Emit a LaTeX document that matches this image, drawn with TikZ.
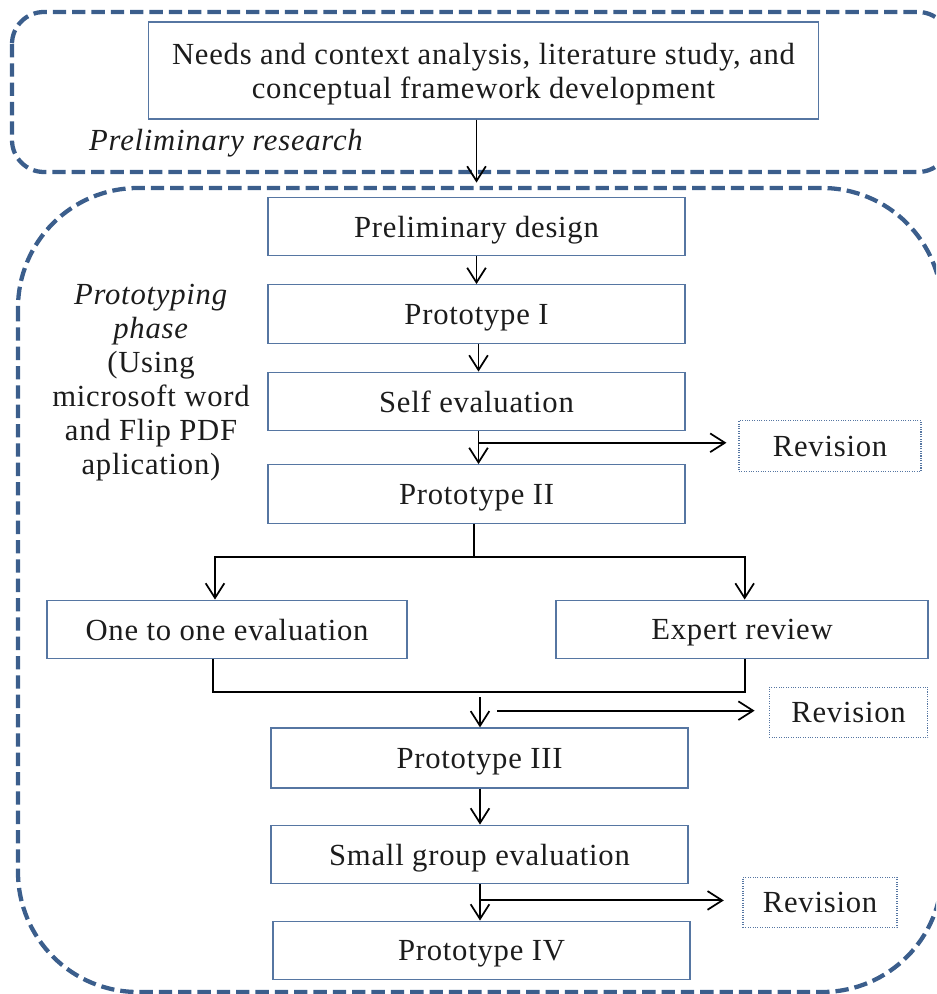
\documentclass[tikz,border=0pt]{standalone}
\usepackage{fontspec}
\setmainfont{Liberation Serif}[LetterSpace=2.5]
\usepackage{xcolor}
\usepackage{tikz}
\usetikzlibrary{positioning,arrows.meta}

\definecolor{PhaseBlue}{HTML}{3B5E8C}
\definecolor{EdgeBlue}{HTML}{5676A2}
\definecolor{InkGray}{HTML}{1C1C1C}

\begin{document}
\begin{tikzpicture}[
x=0.75pt, y=-0.75pt,
font=\fontsize{23}{25.5}\selectfont, text=InkGray,
stage/.style={draw=EdgeBlue, line width=0.9pt, inner sep=0pt, align=center, text depth=0pt, minimum width=312.75pt, minimum height=44pt},
revbox/.style={draw=EdgeBlue, densely dotted, line width=0.8pt, inner sep=0pt, text depth=0pt, minimum height=38pt},
phase/.style={draw=PhaseBlue, line width=3.2pt, dash pattern=on 10pt off 4.5pt},
link/.style={line width=1.45pt, black},
arrow/.style={link, -{Straight Barb[length=11pt,width=14pt,line width=1.3pt]}},
tag/.style={align=center, inner sep=0pt}
]
\clip (0,0) rectangle (936,994);
\useasboundingbox (0,0) rectangle (936,994);

% phase frames
\draw[phase, rounded corners=24pt] (12,12) rectangle (950,172);
\draw[phase, rounded corners=90pt] (18,188) rectangle (942,992);

% preliminary research
\node[stage, minimum width=503pt, minimum height=72.75pt] (needs) at (483.5,70.5)
  {Needs and context analysis, literature study, and\\conceptual framework development};
\node[tag, font=\fontsize{23}{25.5}\selectfont\itshape] (prelimlbl) at (226,143) {Preliminary research};

% prototyping phase
\node[tag] (protolbl) at (151,383)
  {\textit{Prototyping}\\\textit{phase}\\(Using\\microsoft word\\and Flip PDF\\aplication)};

\node[stage] (design) at (476.5,226.5) {Preliminary design};
\node[stage] (proto1) at (476.5,314) {Prototype I};
\node[stage] (selfev) at (476.5,401.5) {Self evaluation};
\node[stage] (proto2) at (476.5,494) {Prototype II};
\node[stage, minimum width=270pt] (onetoone) at (227,629.5) {One to one evaluation};
\node[stage, minimum width=279pt] (expert) at (742,629.5) {Expert review};
\node[stage, minimum height=45pt] (proto3) at (479.5,758) {Prototype III};
\node[stage] (smallgrp) at (479.5,854.5) {Small group evaluation};
\node[stage] (proto4) at (481.5,950.5) {Prototype IV};

\node[revbox, minimum width=136.5pt] (rev1) at (830,446) {Revision};
\node[revbox, minimum width=119pt] (rev2) at (848.5,712.5) {Revision};
\node[revbox, minimum width=115.5pt] (rev3) at (820,902.5) {Revision};

\coordinate (split) at (474,557);
\coordinate (merge) at (480,692);

% flow
\draw[arrow, shorten >=10.5pt] (needs.south -| design.north) -- (design.north);
\draw[arrow] (design) -- (proto1);
\draw[arrow] ([xshift=1.5pt]proto1.south) -- ([xshift=1.5pt]selfev.north);
\draw[arrow] ([xshift=1.5pt]selfev.south) -- ([xshift=1.5pt]proto2.north);
\draw[arrow, shorten >=10.5pt] ([xshift=1.5pt,yshift=-8.5pt]selfev.south) -- ([xshift=1.5pt,yshift=-8.5pt]selfev.south -| rev1.west);

\draw[link] (proto2.south -| split) -- (split);
\draw[arrow] (split) -| ([xshift=-9pt]onetoone.north);
\draw[arrow] (split) -| ([xshift=2pt]expert.north);

\draw[link] ([xshift=-10.5pt]onetoone.south) -- ++(0,33) -| ([xshift=2pt]expert.south);
\draw[arrow] ([yshift=-4pt]merge) -- (proto3.north -| merge);
\draw[arrow, shorten >=10.5pt] ([xshift=12.75pt,yshift=-14pt]merge) -- ([yshift=-14pt]merge -| rev2.west);

\draw[arrow] (proto3.south -| merge) -- (smallgrp.north -| merge);
\draw[arrow] (smallgrp.south -| merge) -- (proto4.north -| merge);
\draw[arrow, shorten >=14pt] ([yshift=-12pt]smallgrp.south -| merge) -- ([yshift=-12pt]smallgrp.south -| rev3.west);
\end{tikzpicture}
\end{document}
